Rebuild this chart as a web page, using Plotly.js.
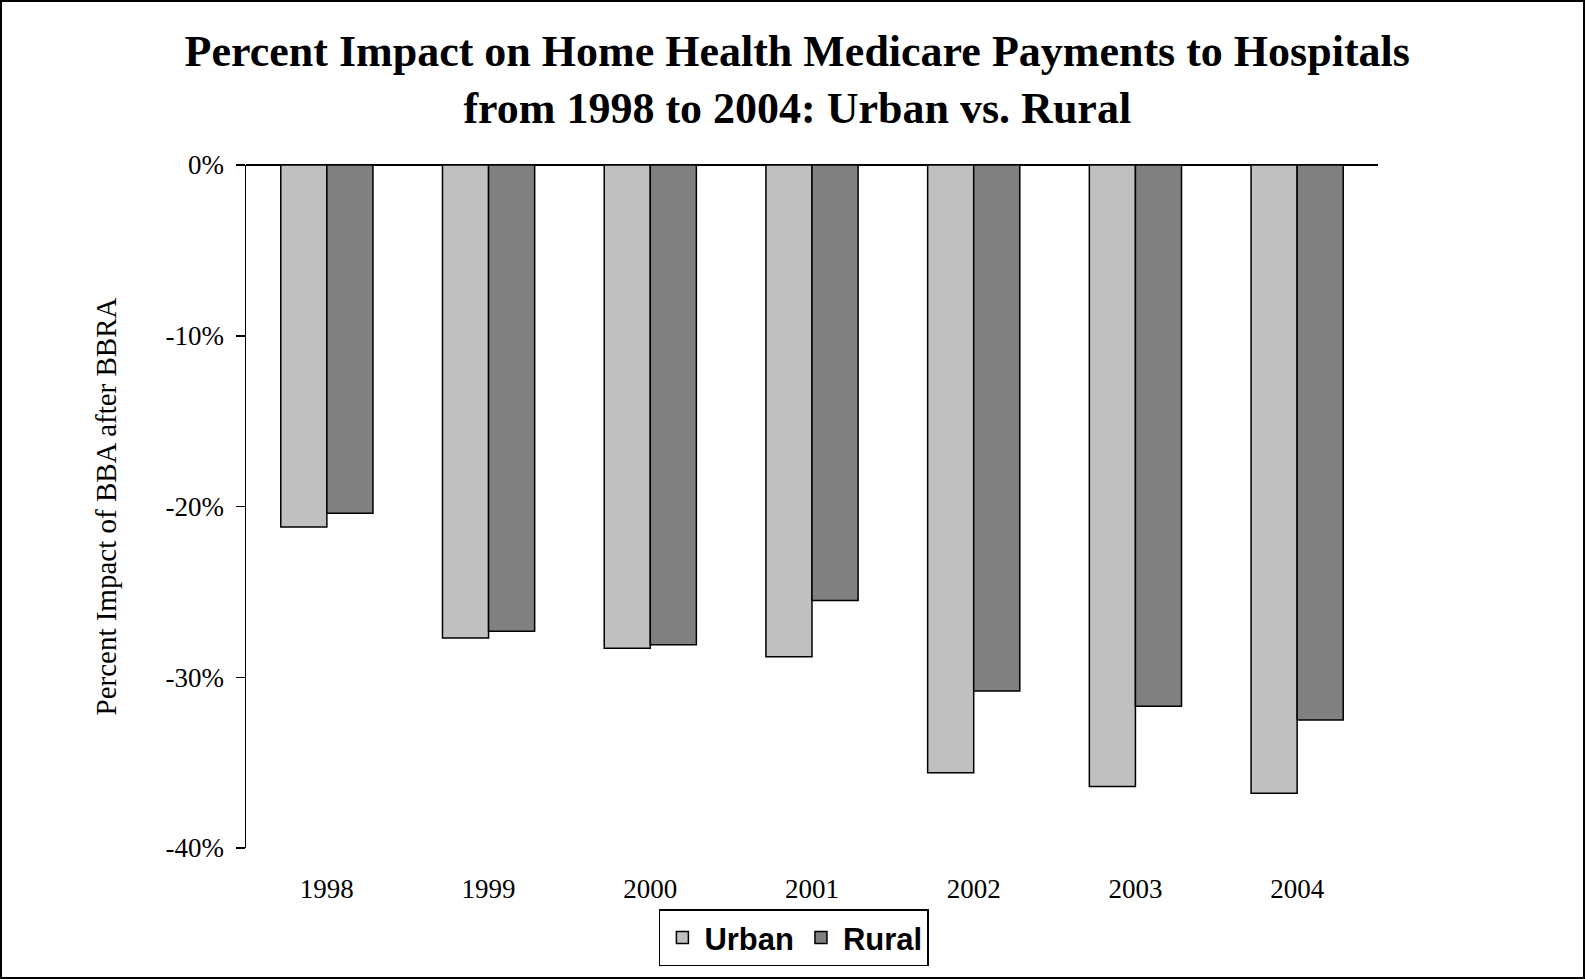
<!DOCTYPE html>
<html>
<head>
<meta charset="utf-8">
<script src="https://cdn.plot.ly/plotly-3.0.1.min.js"></script>
<style>
html,body{margin:0;padding:0;background:#fff;}
#wrap{position:relative;width:1585px;height:979px;}
#chart{width:1585px;height:979px;}
#frame{position:absolute;left:0;top:0;width:1585px;height:979px;box-sizing:border-box;border:2px solid #000;pointer-events:none;}
</style>
</head>
<body>
<div id="wrap"><div id="chart"></div><div id="frame"></div></div>
<script>
const years = ['1998','1999','2000','2001','2002','2003','2004'];
const urban = [-21.2, -27.7, -28.3, -28.8, -35.6, -36.4, -36.8];
const rural = [-20.4, -27.3, -28.1, -25.5, -30.8, -31.7, -32.5];
const yTickVals = [0, -10, -20, -30, -40];
const yTickText = ['0%', '-10%', '-20%', '-30%', '-40%'];

const serif = 'Liberation Serif, Times New Roman, serif';
const traces = [
  {type:'bar', name:'Urban', x:years, y:urban,
   marker:{color:'#C0C0C0', line:{color:'#000', width:1.5}}},
  {type:'bar', name:'Rural', x:years, y:rural,
   marker:{color:'#808080', line:{color:'#000', width:1.5}}}
];
const layout = {
  width:1585, height:979,
  paper_bgcolor:'#fff', plot_bgcolor:'#fff',
  margin:{l:246, r:207, t:164.5, b:130.5},
  barmode:'group', bargap:0.43, bargroupgap:0,
  showlegend:true,
  title:{text:'<b>Percent Impact on Home Health Medicare Payments to Hospitals<br>from 1998 to 2004: Urban vs. Rural</b>',
    font:{family:serif, size:44, color:'#000'},
    xref:'container', x:0.503, xanchor:'center',
    yref:'container', y:0.933, yanchor:'middle'},
  xaxis:{type:'category', showline:false, ticks:'', showgrid:false, zeroline:false,
    tickfont:{family:serif, size:27, color:'#000'}, ticklabelstandoff:22},
  yaxis:{range:[-40,0], tickvals:yTickVals, ticktext:yTickText,
    showline:true, linecolor:'#000', linewidth:1.5,
    ticks:'outside', ticklen:9, tickwidth:1.5, tickcolor:'#000',
    showgrid:false, zeroline:true, zerolinecolor:'#000', zerolinewidth:1.5,
    tickfont:{family:serif, size:27, color:'#000'}, ticklabelstandoff:6,
    title:{text:'Percent Impact of BBA after BBRA', font:{family:serif, size:29, color:'#000'}, standoff:40},
    automargin:false},
  legend:{orientation:'h', x:0.484, xanchor:'center', y:-0.09, yanchor:'top',
    bordercolor:'#000', borderwidth:1.5, bgcolor:'#fff',
    font:{family:'Liberation Sans, Arial, sans-serif', size:31, color:'#000', weight:'bold'},
    itemwidth:34, traceorder:'normal'}
};
Plotly.newPlot('chart', traces, layout, {displayModeBar:false, staticPlot:true});
</script>
</body>
</html>
